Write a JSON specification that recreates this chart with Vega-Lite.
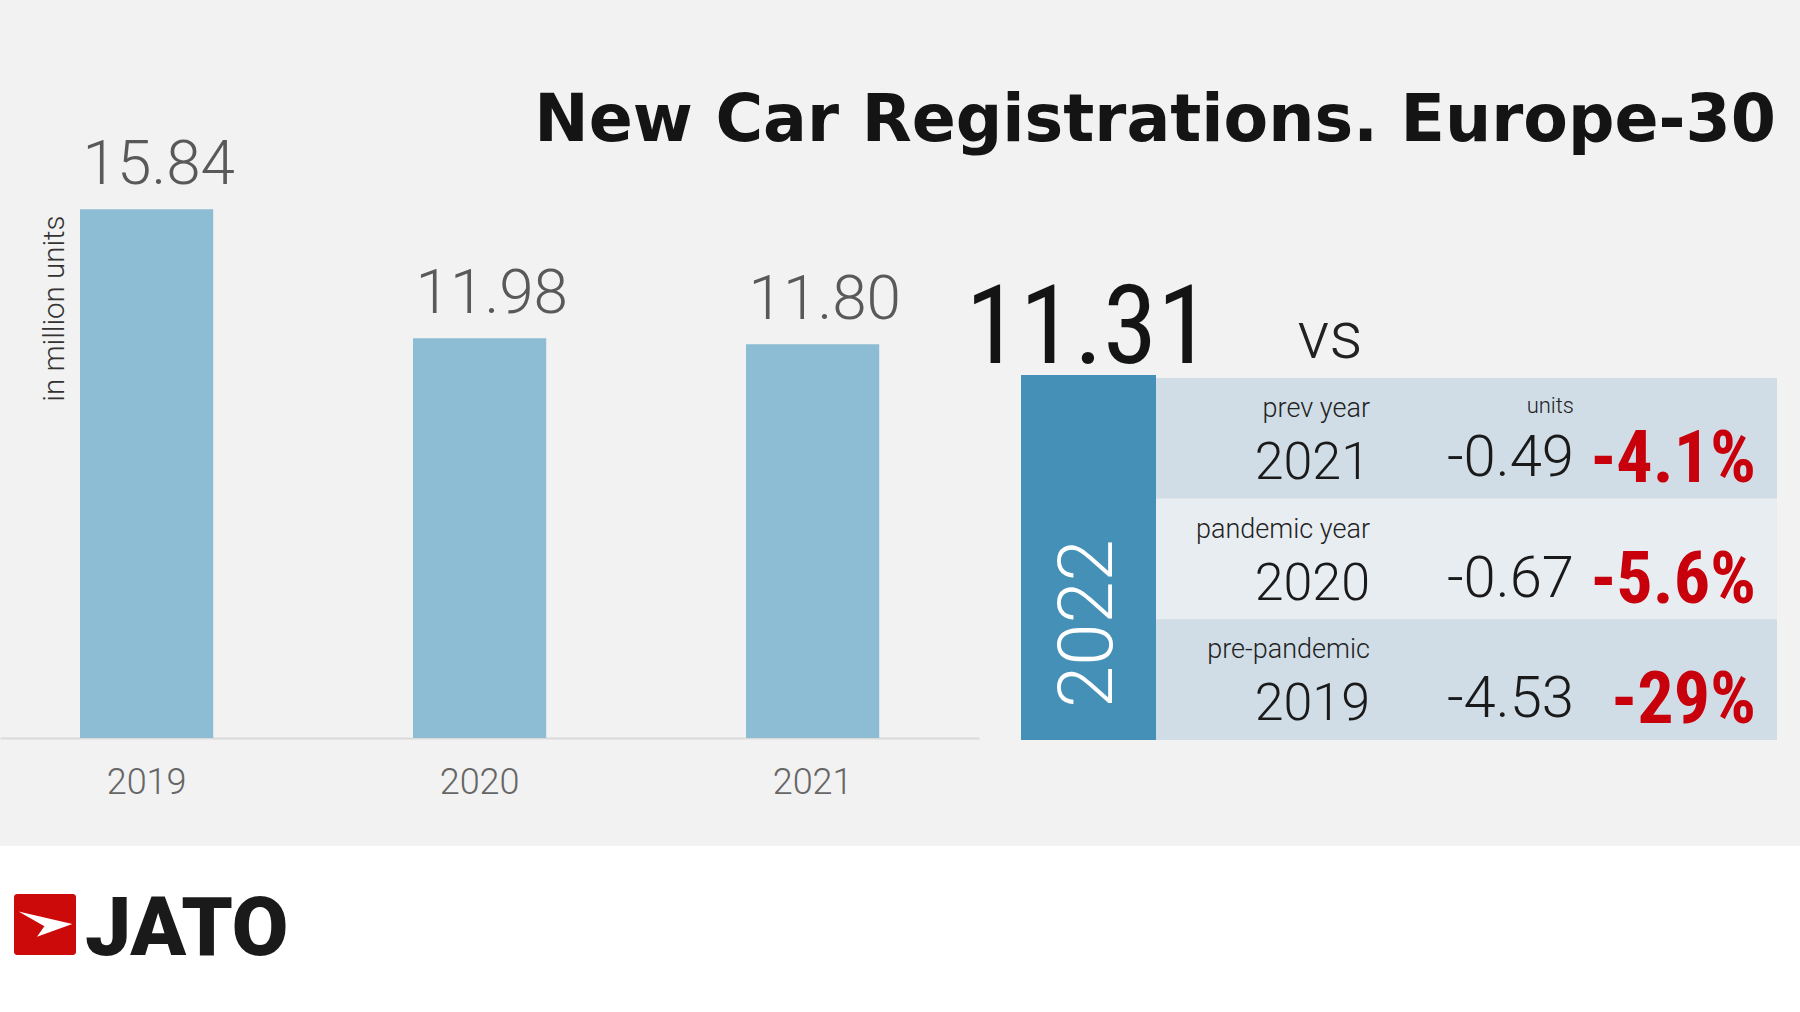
{
  "$schema": "https://vega.github.io/schema/vega-lite/v6.json",
  "width": 1800,
  "height": 1012,
  "autosize": {"type": "fit", "contains": "padding"},
  "padding": 0,
  "background": "#f2f2f2",
  "config": {
    "view": {"stroke": null},
    "font": "Roboto",
    "locale": {"number": {"decimal": ".", "thousands": ",", "grouping": [3], "currency": ["", ""], "minus": "-"}}
  },
  "datasets": {
    "registrations": [
      {"year": "2019", "units_m": 15.84},
      {"year": "2020", "units_m": 11.98},
      {"year": "2021", "units_m": 11.80}
    ],
    "current": [
      {"year": "2022", "units_m": 11.31}
    ],
    "comparison": [
      {"period": "prev year", "year": "2021", "diff": -0.49, "pct": -0.041},
      {"period": "pandemic year", "year": "2020", "diff": -0.67, "pct": -0.056},
      {"period": "pre-pandemic", "year": "2019", "diff": -4.53, "pct": -0.29}
    ]
  },
  "resolve": {
    "scale": {"x": "independent", "y": "independent", "color": "independent"},
    "axis": {"x": "independent", "y": "independent"}
  },
  "layer": [
    {
      "data": {"values": [{"zone": "footer"}]},
      "mark": {"type": "rect", "color": "#ffffff"},
      "encoding": {
        "y": {"field": "zone", "type": "nominal", "axis": null,
              "scale": {"type": "band", "range": [846, 1012], "paddingInner": 0, "paddingOuter": 0}}
      }
    },
    {
      "data": {"name": "registrations"},
      "encoding": {
        "x": {
          "field": "year", "type": "nominal",
          "scale": {"type": "band", "range": [0, 979], "paddingInner": 0.6, "paddingOuter": 0.27, "align": 0.445},
          "axis": {
            "title": null, "orient": "bottom", "offset": -274, "ticks": false, "tickSize": 0,
            "labelPadding": 44, "labelBaseline": "middle", "labelAngle": 0,
            "labelFont": "Roboto", "labelFontWeight": 300, "labelFontSize": 36, "labelColor": "#666666",
            "domainColor": "#dadada", "domainWidth": 2, "grid": false
          }
        },
        "y": {
          "field": "units_m", "type": "quantitative",
          "scale": {"domain": [0, 16], "range": [738, 204]},
          "axis": {
            "orient": "left", "title": "in million units", "labels": false, "ticks": false, "domain": false, "grid": false,
            "titleX": 54, "titleY": 215, "titleAngle": 270, "titleAlign": "right", "titleBaseline": "middle",
            "titleFont": "Roboto", "titleFontWeight": 300, "titleFontSize": 29.5, "titleColor": "#333333"
          }
        }
      },
      "layer": [
        {"mark": {"type": "bar", "color": "#8dbdd5"}},
        {
          "mark": {"type": "text", "align": "left", "baseline": "alphabetic", "dx": -64, "dy": -25,
                   "font": "Roboto", "fontWeight": 300, "fontSize": 62, "color": "#595959"},
          "encoding": {
            "text": {"field": "units_m", "type": "quantitative", "format": ".2f"}
          }
        }
      ]
    },
    {
      "data": {"values": [{"title": "New Car Registrations. Europe-30"}]},
      "mark": {"type": "text", "align": "right", "baseline": "alphabetic",
               "font": "DejaVu Sans", "fontWeight": "bold", "fontSize": 65, "color": "#141414"},
      "encoding": {
        "x": {"field": "title", "type": "nominal", "bandPosition": 1, "axis": null,
              "scale": {"type": "band", "range": [0, 1776], "paddingInner": 0, "paddingOuter": 0}},
        "y": {"field": "title", "type": "nominal", "bandPosition": 1, "axis": null,
              "scale": {"type": "band", "range": [0, 141], "paddingInner": 0, "paddingOuter": 0}},
        "text": {"field": "title", "type": "nominal"}
      }
    },
    {
      "data": {"name": "current"},
      "encoding": {
        "x": {"field": "year", "type": "nominal", "axis": null,
              "scale": {"type": "band", "range": [1021, 1156], "paddingInner": 0, "paddingOuter": 0}},
        "y": {"field": "year", "type": "nominal", "axis": null,
              "scale": {"type": "band", "range": [375, 740], "paddingInner": 0, "paddingOuter": 0}}
      },
      "layer": [
        {"mark": {"type": "rect", "color": "#4490b7"}},
        {
          "mark": {"type": "text", "angle": 270, "align": "left", "baseline": "middle",
                   "font": "Roboto", "fontWeight": 300, "fontSize": 76, "color": "#ffffff"},
          "encoding": {
            "y": {"field": "year", "type": "nominal", "bandPosition": 0.912, "axis": null},
            "text": {"field": "year", "type": "nominal"}
          }
        },
        {
          "mark": {"type": "text", "align": "center", "baseline": "alphabetic", "dy": -12,
                   "font": "'Roboto Condensed', 'Liberation Sans Narrow', 'DejaVu Sans Condensed', sans-serif", "fontWeight": 400,
                   "fontSize": 110, "color": "#141414"},
          "encoding": {
            "y": {"field": "year", "type": "nominal", "bandPosition": 0, "axis": null},
            "text": {"field": "units_m", "type": "quantitative", "format": ".2f"}
          }
        }
      ]
    },
    {
      "data": {"name": "comparison"},
      "layer": [
        {
          "transform": [{"fold": ["year", "diff", "pct"], "as": ["column", "cell"]}],
          "mark": {"type": "rect"},
          "encoding": {
            "x": {"field": "column", "type": "nominal", "axis": null,
                  "scale": {"type": "band", "domain": ["year", "diff", "pct"], "range": [1156, 1777], "paddingInner": 0, "paddingOuter": 0}},
            "y": {"field": "period", "type": "nominal", "axis": null,
                  "scale": {"type": "band", "domain": ["prev year", "pandemic year", "pre-pandemic"], "range": [378, 740], "paddingInner": 0, "paddingOuter": 0}},
            "color": {"field": "period", "type": "nominal", "legend": null,
                      "scale": {"domain": ["prev year", "pandemic year", "pre-pandemic"], "range": ["#d0dde6", "#e8edf2", "#d0dde6"]}}
          }
        },
        {
          "mark": {"type": "text", "align": "right", "baseline": "alphabetic", "dx": 7, "dy": 39,
                   "font": "Roboto", "fontWeight": 300, "fontSize": 27, "color": "#222222"},
          "encoding": {
            "x": {"datum": "year", "type": "nominal", "bandPosition": 1, "axis": null},
            "y": {"field": "period", "type": "nominal", "bandPosition": 0, "axis": null},
            "text": {"field": "period", "type": "nominal"}
          }
        },
        {
          "mark": {"type": "text", "align": "right", "baseline": "alphabetic", "dx": 7, "dy": 101,
                   "font": "Roboto", "fontWeight": 300, "fontSize": 52, "color": "#1a1a1a"},
          "encoding": {
            "x": {"datum": "year", "type": "nominal", "bandPosition": 1, "axis": null},
            "y": {"field": "period", "type": "nominal", "bandPosition": 0, "axis": null},
            "text": {"field": "year", "type": "nominal"}
          }
        },
        {
          "mark": {"type": "text", "align": "right", "baseline": "alphabetic", "dx": 4, "dy": 98,
                   "font": "Roboto", "fontWeight": 300, "fontSize": 58, "color": "#1a1a1a"},
          "encoding": {
            "x": {"datum": "diff", "type": "nominal", "bandPosition": 1, "axis": null},
            "y": {"field": "period", "type": "nominal", "bandPosition": 0, "axis": null},
            "text": {"field": "diff", "type": "quantitative", "format": ".2f"}
          }
        },
        {
          "mark": {"type": "text", "align": "right", "baseline": "alphabetic", "dx": -21, "dy": 104,
                   "font": "'Roboto Condensed', 'Liberation Sans Narrow', 'DejaVu Sans Condensed', sans-serif", "fontWeight": 700,
                   "fontSize": 72, "color": "#c8000b"},
          "encoding": {
            "x": {"datum": "pct", "type": "nominal", "bandPosition": 1, "axis": null},
            "y": {"field": "period", "type": "nominal", "bandPosition": 0, "axis": null},
            "text": {"field": "pct", "type": "quantitative", "format": ".2~%"}
          }
        },
        {
          "data": {"values": [{"header": "units"}]},
          "mark": {"type": "text", "align": "right", "baseline": "alphabetic", "dx": 4, "dy": 35,
                   "font": "Roboto", "fontWeight": 300, "fontSize": 22, "color": "#222222"},
          "encoding": {
            "x": {"datum": "diff", "type": "nominal", "bandPosition": 1, "axis": null},
            "y": {"datum": "prev year", "type": "nominal", "bandPosition": 0, "axis": null},
            "text": {"field": "header", "type": "nominal"}
          }
        },
        {
          "data": {"values": [{"header": "vs"}]},
          "mark": {"type": "text", "align": "center", "baseline": "alphabetic", "dy": -20,
                   "font": "Roboto", "fontWeight": 300, "fontSize": 66, "color": "#222222"},
          "encoding": {
            "x": {"datum": "year", "type": "nominal", "bandPosition": 0.841, "axis": null},
            "y": {"datum": "prev year", "type": "nominal", "bandPosition": 0, "axis": null},
            "text": {"field": "header", "type": "nominal"}
          }
        }
      ]
    },
    {
      "data": {"values": [{"brand": "JATO"}]},
      "encoding": {
        "x": {"field": "brand", "type": "nominal", "axis": null,
              "scale": {"type": "band", "range": [14, 76], "paddingInner": 0, "paddingOuter": 0}},
        "y": {"field": "brand", "type": "nominal", "axis": null,
              "scale": {"type": "band", "range": [894, 955], "paddingInner": 0, "paddingOuter": 0}}
      },
      "layer": [
        {"mark": {"type": "rect", "color": "#cc0a0a", "cornerRadius": 3}},
        {"mark": {"type": "point", "filled": true, "color": "#ffffff", "opacity": 1, "strokeWidth": 0, "size": 3782,
                  "shape": "M-0.86,-0.42L0.89,-0.02L-0.26,0.40L-0.02,0.06Z"}},
        {
          "mark": {"type": "text", "align": "left", "baseline": "alphabetic", "dx": 9,
                   "font": "Roboto", "fontWeight": 900, "fontSize": 82, "color": "#1a1a1a"},
          "encoding": {
            "x": {"field": "brand", "type": "nominal", "bandPosition": 1, "axis": null},
            "y": {"field": "brand", "type": "nominal", "bandPosition": 1, "axis": null},
            "text": {"field": "brand", "type": "nominal"}
          }
        }
      ]
    }
  ]
}
